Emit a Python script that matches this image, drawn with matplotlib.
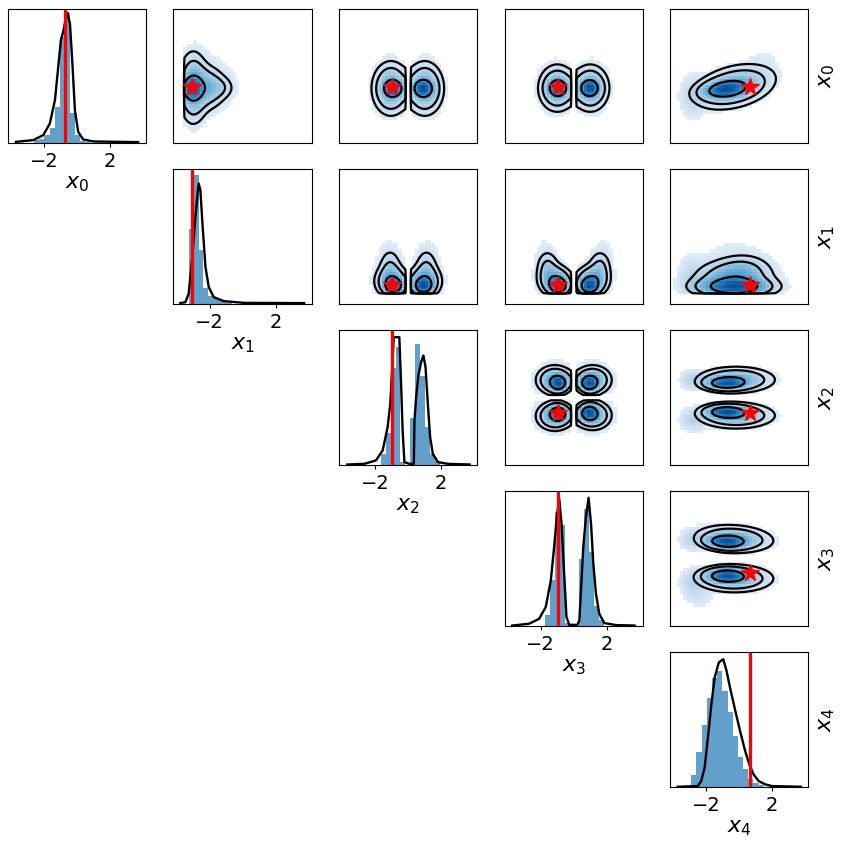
import numpy as np
import matplotlib.pyplot as plt
from matplotlib.colors import PowerNorm

#====================1======================
#               data
#===========================================
lim = 4.2
names = ['$x_0$', '$x_1$', '$x_2$', '$x_3$', '$x_4$']
theta = [-0.72, -3.05, -0.98, -0.93, 0.66]   # red line / star
x1_floor = -3.55                               # samples of x1 stop here
gap_params = [2, 3]                            # x2, x3 have no samples near 0
gap_half = 0.15

# histograms on the diagonal: first edge, bin width, bar heights (axes fraction)
hist_start = [-2.61, -3.25, -1.67, -1.75, -3.23]
hist_width = [0.31, 0.29, 0.30, 0.30, 0.315]
hist_x0 = [0.02, 0.025, 0.057, 0.11, 0.27, 0.79, 0.97, 0.22, 0.06, 0.015, 0.005]
hist_x1 = [0.56, 0.96, 0.40, 0.12, 0.06, 0.04, 0.025, 0.015, 0.008]
hist_x2 = [0.08, 0.24, 0.72, 0.88, 0.02, 0.0, 0.35, 0.90, 0.66, 0.28, 0.08, 0.03]
hist_x3 = [0.08, 0.34, 0.85, 0.75, 0.02, 0.0, 0.0, 0.50, 0.87, 0.55, 0.15, 0.04]
hist_x4 = [0.012, 0.09, 0.26, 0.46, 0.66, 0.81, 0.86, 0.71, 0.56, 0.38, 0.22,
           0.13, 0.06, 0.03, 0.01]

# density lines on the diagonal
kde_x0_at = [-3.72, -2.67, -2.06, -1.66, -1.35, -1.15, -0.99, -0.85, -0.71, -0.59,
             -0.44, -0.28, -0.14, 0.06, 0.36, 0.97, 3.70]
kde_x0 = [0.007, 0.02, 0.057, 0.144, 0.318, 0.566, 0.764, 0.826, 0.913, 0.968,
          0.888, 0.566, 0.243, 0.082, 0.025, 0.01, 0.005]
kde_x1_at = [-3.79, -3.48, -3.28, -3.08, -2.87, -2.73, -2.67, -2.57, -2.43, -2.26,
             -2.06, -1.76, -1.15, 0.07, 3.73]
kde_x1 = [0.005, 0.012, 0.075, 0.323, 0.647, 0.833, 0.896, 0.846, 0.572, 0.274,
          0.124, 0.05, 0.02, 0.007, 0.005]
kde_x2_at = [-3.69, -2.67, -1.96, -1.55, -1.25, -1.09, -0.98, -0.88, -0.54, -0.44,
             -0.34, -0.23, 0.07, 0.34, 0.38, 0.48, 0.62, 0.78, 0.92, 1.05, 1.19,
             1.33, 1.49, 1.80, 2.41, 3.73]
kde_x2 = [0.002, 0.007, 0.032, 0.107, 0.28, 0.454, 0.702, 0.95, 0.95, 0.628,
          0.256, 0.02, 0.007, 0.007, 0.33, 0.504, 0.665, 0.764, 0.814, 0.727,
          0.454, 0.206, 0.082, 0.02, 0.007, 0.002]
kde_x3_at = [-3.73, -2.71, -2.10, -1.70, -1.39, -1.19, -1.03, -0.88, -0.74, -0.58,
             -0.44, -0.27, 0.23, 0.34, 0.44, 0.58, 0.74, 0.90, 1.05, 1.19, 1.35,
             1.55, 1.86, 2.57, 3.69]
kde_x3 = [0.002, 0.015, 0.052, 0.139, 0.337, 0.586, 0.809, 0.945, 0.759, 0.387,
          0.065, 0.007, 0.007, 0.04, 0.263, 0.586, 0.809, 0.953, 0.759, 0.462,
          0.238, 0.089, 0.02, 0.005, 0.002]
kde_x4_at = [-3.74, -2.51, -2.31, -2.10, -1.90, -1.69, -1.49, -1.24, -0.97, -0.77,
             -0.56, -0.26, 0.05, 0.36, 0.61, 0.87, 1.18, 1.59, 2.0, 3.74]
kde_x4 = [0.0, 0.005, 0.042, 0.142, 0.366, 0.614, 0.813, 0.925, 0.95, 0.863,
          0.739, 0.577, 0.415, 0.266, 0.167, 0.092, 0.042, 0.017, 0.005, 0.0]

# pair panels: blobs (cx, cy, sx, sy, rho, weight)
# x = column parameter, y = row parameter; "haze" = loose samples outside the contours
blobs_01 = [(-3.1, -0.8, 0.35, 0.4, 0, 1.0), (-3.0, -0.75, 0.45, 1.1, 0, 0.55),
            (-2.2, -0.75, 0.6, 0.7, 0, 0.4), (-1.4, -0.75, 0.5, 0.4, 0, 0.14)]
haze_01 = [(-1.8, -0.3, 1.4, 1.5, 0, 0.03)]
blobs_02 = [(-0.9, -0.8, 0.32, 0.3, 0, 1.0), (-1.05, -0.8, 0.55, 0.8, 0, 0.45),
            (0.88, -0.8, 0.32, 0.3, 0, 1.0), (1.0, -0.8, 0.55, 0.8, 0, 0.45)]
haze_02 = [(-1.2, -0.6, 0.45, 1.3, 0, 0.03), (1.3, -0.6, 0.45, 1.3, 0, 0.03)]
blobs_03 = [(-0.95, -0.78, 0.32, 0.3, 0, 1.0), (-1.0, -0.78, 0.55, 0.7, 0, 0.45),
            (0.95, -0.78, 0.32, 0.3, 0, 1.0), (1.0, -0.78, 0.55, 0.7, 0, 0.45)]
haze_03 = [(-1.2, -0.6, 0.45, 1.2, 0, 0.03), (1.2, -0.6, 0.45, 1.2, 0, 0.03)]
blobs_04 = [(-0.85, -0.85, 0.75, 0.32, 0.25, 1.0), (-0.3, -0.7, 1.15, 0.65, 0.35, 0.45)]
haze_04 = [(-2.8, -1.3, 0.45, 0.8, 0, 0.12), (1.3, 0.7, 0.8, 0.8, 0.4, 0.03)]
blobs_12 = [(-0.88, -3.1, 0.32, 0.3, 0, 1.0), (-1.0, -2.8, 0.52, 0.5, 0, 0.55),
            (-1.1, -2.0, 0.38, 0.7, 0, 0.2),
            (0.9, -3.1, 0.32, 0.3, 0, 1.0), (1.0, -2.8, 0.52, 0.5, 0, 0.55),
            (1.1, -2.0, 0.38, 0.7, 0, 0.2)]
haze_12 = [(-1.2, -1.2, 0.6, 1.2, 0, 0.02), (1.2, -1.2, 0.6, 1.2, 0, 0.02)]
blobs_13 = [(-0.92, -3.1, 0.32, 0.3, 0, 1.0), (-1.12, -2.75, 0.52, 0.5, 0, 0.55),
            (-1.6, -1.9, 0.38, 0.6, 0, 0.2),
            (0.92, -3.1, 0.32, 0.3, 0, 1.0), (1.12, -2.75, 0.52, 0.5, 0, 0.55),
            (1.6, -1.9, 0.38, 0.6, 0, 0.2)]
haze_13 = [(-1.8, -0.8, 0.45, 1.0, 0, 0.02), (1.9, -0.8, 0.45, 1.0, 0, 0.02)]
blobs_14 = [(-0.3, -3.15, 1.2, 0.33, 0, 1.0), (-0.4, -2.6, 1.2, 0.6, 0, 0.45),
            (0.3, -2.0, 0.9, 0.55, 0, 0.15)]
haze_14 = [(-2.9, -2.7, 0.45, 0.8, 0, 0.12), (-0.5, -0.8, 1.5, 1.2, 0, 0.02)]
blobs_23 = [(-0.93, 0.9, 0.3, 0.28, 0, 1.0), (-1.15, 1.1, 0.58, 0.47, 0, 0.5),
            (0.93, 0.9, 0.3, 0.28, 0, 1.0), (1.15, 1.1, 0.58, 0.47, 0, 0.5),
            (-0.93, -1.0, 0.3, 0.28, 0, 1.0), (-1.15, -1.15, 0.58, 0.47, 0, 0.5),
            (0.93, -0.95, 0.3, 0.28, 0, 1.0), (1.15, -1.1, 0.58, 0.47, 0, 0.5)]
haze_23 = [(0.0, 0.0, 1.7, 1.7, 0, 0.02)]
blobs_24 = [(-0.8, 0.9, 0.65, 0.22, 0, 1.0), (-0.2, 1.12, 1.1, 0.38, 0, 0.45),
            (-0.8, -0.88, 0.65, 0.22, 0, 1.0), (-0.2, -1.12, 1.1, 0.38, 0, 0.45)]
haze_24 = [(-2.8, 1.1, 0.45, 0.35, 0, 0.15), (-2.8, -1.4, 0.45, 0.4, 0, 0.15)]
blobs_34 = [(-0.8, 1.04, 0.65, 0.24, -0.1, 1.0), (-0.3, 1.25, 1.1, 0.4, -0.15, 0.45),
            (-0.8, -1.05, 0.65, 0.24, 0, 1.0), (-0.3, -1.25, 1.1, 0.4, 0, 0.45)]
haze_34 = [(-2.8, 1.2, 0.45, 0.4, 0, 0.15), (-2.8, -1.5, 0.45, 0.5, 0, 0.15),
           (-2.4, -2.4, 0.5, 0.4, 0, 0.06)]

hists = [hist_x0, hist_x1, hist_x2, hist_x3, hist_x4]
kdes = [(kde_x0_at, kde_x0), (kde_x1_at, kde_x1), (kde_x2_at, kde_x2),
        (kde_x3_at, kde_x3), (kde_x4_at, kde_x4)]
pairs = {(0, 1): (blobs_01, haze_01), (0, 2): (blobs_02, haze_02),
         (0, 3): (blobs_03, haze_03), (0, 4): (blobs_04, haze_04),
         (1, 2): (blobs_12, haze_12), (1, 3): (blobs_13, haze_13),
         (1, 4): (blobs_14, haze_14), (2, 3): (blobs_23, haze_23),
         (2, 4): (blobs_24, haze_24), (3, 4): (blobs_34, haze_34)}
levels_mass = [0.45, 0.85, 0.95]


def mixture(blobs, X, Y):
    Z = np.zeros_like(X)
    for cx, cy, sx, sy, rho, w in blobs:
        dx, dy = (X - cx) / sx, (Y - cy) / sy
        Z += w * np.exp(-0.5 * (dx**2 - 2 * rho * dx * dy + dy**2) / (1 - rho**2))
    return Z


def support(Z, X, Y, row, col):
    # cut the density where the samples do not reach
    if row == 1:
        Z[Y < x1_floor] = 0
    if col == 1:
        Z[X < x1_floor] = 0
    if row in gap_params:
        Z[np.abs(Y) < gap_half] = 0
    if col in gap_params:
        Z[np.abs(X) < gap_half] = 0
    return Z


def hpd(Z, masses):
    z = np.sort(Z.ravel())[::-1]
    c = np.cumsum(z)
    c /= c[-1]
    return sorted(z[np.searchsorted(c, m)] for m in masses)


#====================2======================
#          figure
#===========================================
fig = plt.figure(figsize=(8.41, 8.5), dpi=100)
n = 5
left0, pitch_x, w = 0.0095, 0.1968, 0.1646
top0, pitch_y, h = 0.990, 0.1894, 0.158

edges_img = np.linspace(-lim, lim, 43)
cen_img = 0.5 * (edges_img[1:] + edges_img[:-1])
Xi, Yi = np.meshgrid(cen_img, cen_img)
g = np.linspace(-lim, lim, 241)
Xc, Yc = np.meshgrid(g, g)

for r in range(n):
    for c in range(r, n):
        ax = fig.add_axes([left0 + c * pitch_x, top0 - h - r * pitch_y, w, h])
        ax.set_xlim(-lim, lim)
        if r == c:
            heights = hists[r]
            edges = hist_start[r] + hist_width[r] * np.arange(len(heights) + 1)
            ax.stairs(heights, edges, fill=True, color='C0', alpha=0.7)
            ax.plot(*kdes[r], color='k', lw=1.7)
            ax.axvline(theta[r], color='red', lw=2.3)
            ax.set_ylim(0, 1)
            ax.set_yticks([])
            ax.set_xticks([-2, 2])
            ax.tick_params(axis='x', labelsize=14, length=3)
            ax.set_xlabel(names[r], fontsize=16, labelpad=2)
        else:
            blobs, haze = pairs[(r, c)]
            Zi = support(mixture(blobs + haze, Xi, Yi), Xi, Yi, r, c)
            Zi = np.ma.masked_less(Zi, 0.015 * Zi.max())
            ax.pcolormesh(edges_img, edges_img, Zi, cmap='Blues',
                          norm=PowerNorm(0.5, vmin=0, vmax=Zi.max() * 1.3))
            Zc = support(mixture(blobs, Xc, Yc), Xc, Yc, r, c)
            ax.contour(Xc, Yc, Zc, levels=hpd(Zc, levels_mass), colors='k',
                       linewidths=1.6)
            ax.plot(theta[c], theta[r], '*', color='red', ms=13, mec='red')
            ax.set_ylim(-lim, lim)
            ax.set_xticks([])
            ax.set_yticks([])
        if c == n - 1:
            ax.yaxis.set_label_position('right')
            ax.set_ylabel(names[r], fontsize=16, labelpad=6)

fig.savefig('out.png', dpi=100)
